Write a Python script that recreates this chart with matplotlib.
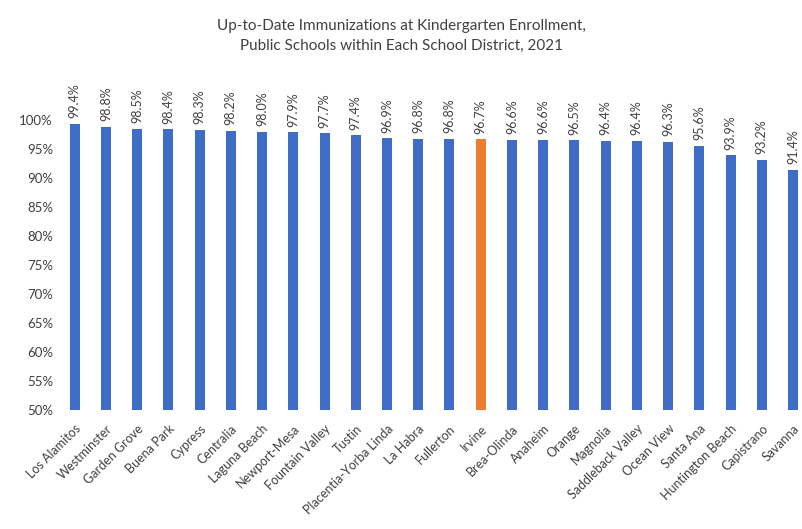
import matplotlib.pyplot as plt

districts = ['Los Alamitos', 'Westminster', 'Garden Grove', 'Buena Park', 'Cypress',
             'Centralia', 'Laguna Beach', 'Newport-Mesa', 'Fountain Valley', 'Tustin',
             'Placentia-Yorba Linda', 'La Habra', 'Fullerton', 'Irvine', 'Brea-Olinda',
             'Anaheim', 'Orange', 'Magnolia', 'Saddleback Valley', 'Ocean View',
             'Santa Ana', 'Huntington Beach', 'Capistrano', 'Savanna']
rates = [99.4, 98.8, 98.5, 98.4, 98.3, 98.2, 98.0, 97.9, 97.7, 97.4, 96.9, 96.8,
         96.8, 96.7, 96.6, 96.6, 96.5, 96.4, 96.4, 96.3, 95.6, 93.9, 93.2, 91.4]
highlight = 'Irvine'
yticks = [50, 55, 60, 65, 70, 75, 80, 85, 90, 95, 100]

plt.rcParams['font.family'] = ['Lato', 'DejaVu Sans']

fig = plt.figure(figsize=(8.03, 5.29), dpi=100)
ax = fig.add_axes([0.072, 0.225, 0.928, 0.548])

colors = ['#ED7D31' if d == highlight else '#3E6CC6' for d in districts]
x = list(range(len(districts)))
bars = ax.bar(x, [r - 50 for r in rates], bottom=50, width=0.32, color=colors)

for xi, r in zip(x, rates):
    ax.annotate(f'{r:.1f}%', (xi, r), xytext=(0, 4), textcoords='offset points',
                rotation=90, ha='center', va='bottom', fontsize=9, color='#404040',
                annotation_clip=False)

ax.set_xlim(-0.54, 23.32)
ax.set_ylim(50, 100)
ax.set_yticks(yticks)
ax.set_yticklabels([f'{t}%' for t in yticks], fontsize=9.5, color='#404040')
ax.set_xticks(x)
ax.set_xticklabels(districts, rotation=45, ha='right', rotation_mode='anchor',
                   fontsize=9, color='#404040')
ax.tick_params(length=0)
ax.tick_params(axis='x', pad=9)
for s in ax.spines.values():
    s.set_visible(False)

fig.text(0.5, 0.965, 'Up-to-Date Immunizations at Kindergarten Enrollment,\n'
         'Public Schools within Each School District, 2021',
         ha='center', va='top', fontsize=11, color='#404040', linespacing=1.6)

fig.savefig('out.png', dpi=100)
